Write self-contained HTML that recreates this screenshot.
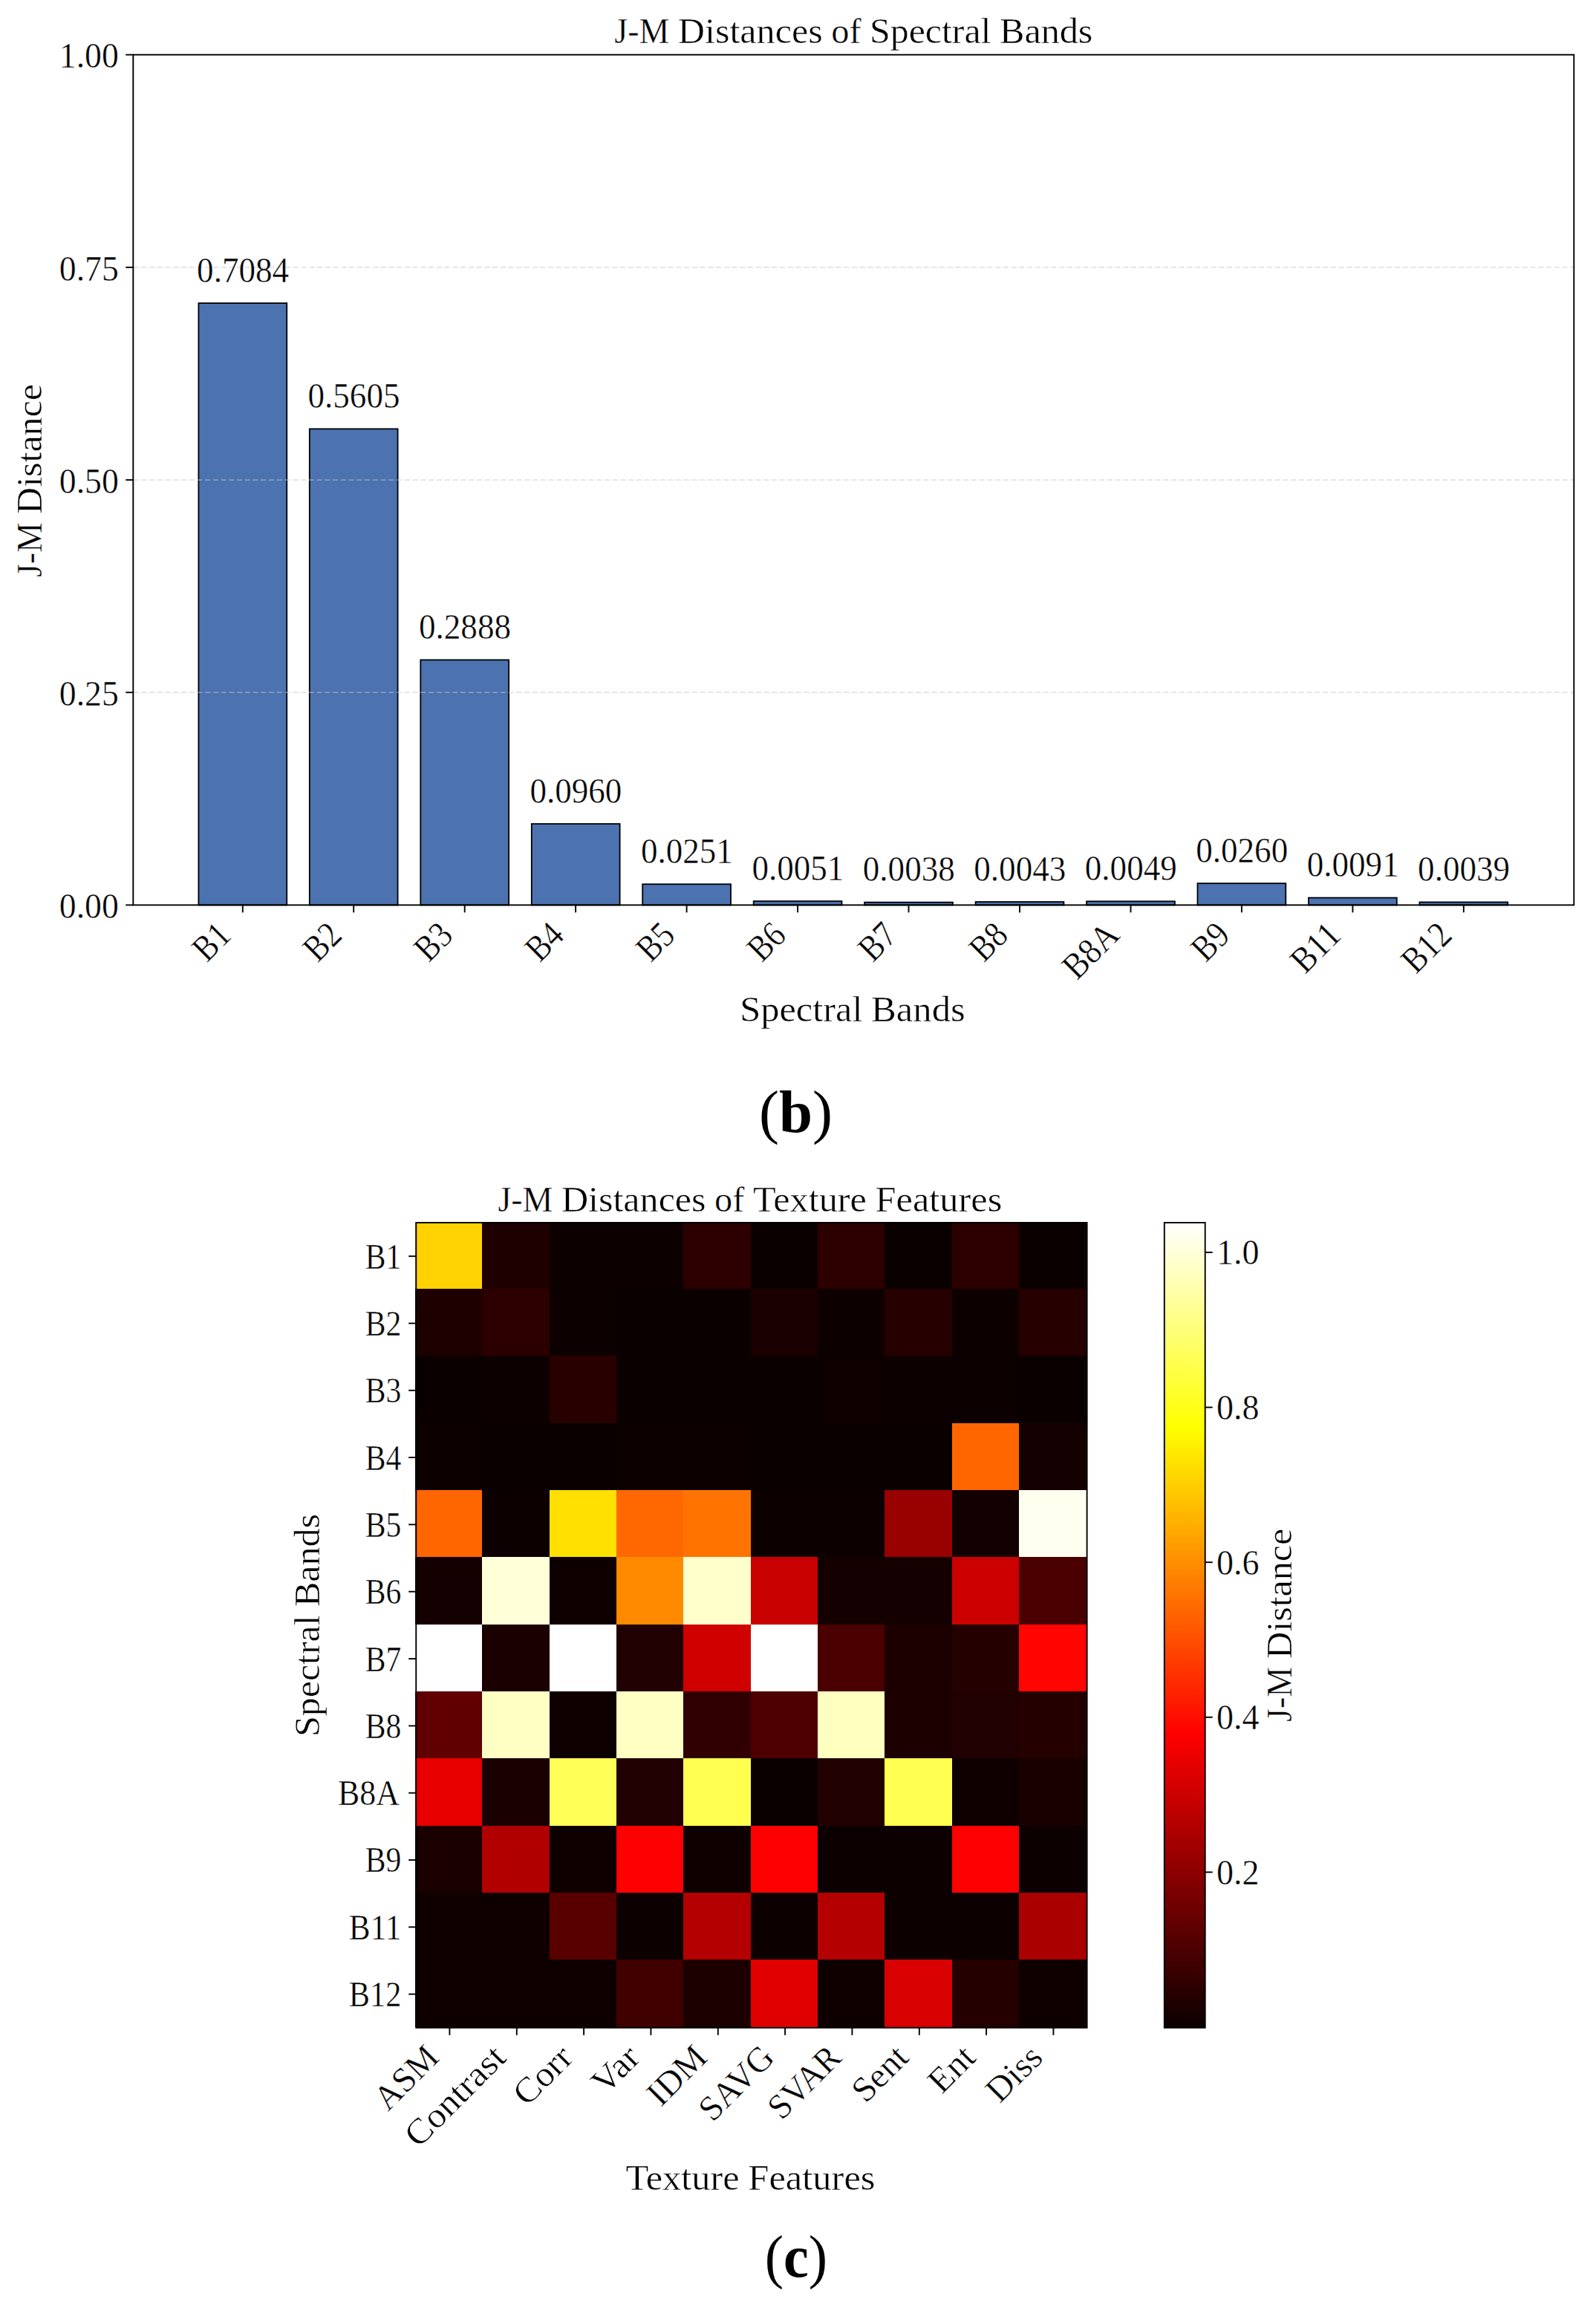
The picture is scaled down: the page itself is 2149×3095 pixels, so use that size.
<!DOCTYPE html>
<html lang="en"><head><meta charset="utf-8"><title>J-M Distances</title>
<style>
html,body{margin:0;padding:0;background:#fff}
body{width:2149px;height:3095px;overflow:hidden}
svg{display:block}
svg text{font-family:"Liberation Serif","DejaVu Serif",serif;font-size:47.5px;fill:#000;stroke:#fff;stroke-width:0.45px}
</style></head><body>
<svg width="2149" height="3095" viewBox="0 0 2149 3095">
<rect width="2149" height="3095" fill="#fff"/>
<g id="chart-b">
<g fill="#4c72b0" stroke="#000" stroke-width="1.8">
<rect x="267.4" y="408.1" width="118.8" height="810.3"/>
<rect x="416.8" y="577.4" width="118.8" height="641.0"/>
<rect x="566.3" y="888.4" width="118.8" height="330.0"/>
<rect x="715.8" y="1109.1" width="118.8" height="109.3"/>
<rect x="865.2" y="1190.3" width="118.8" height="28.1"/>
<rect x="1014.7" y="1213.2" width="118.8" height="5.2"/>
<rect x="1164.1" y="1214.7" width="118.8" height="3.7"/>
<rect x="1313.6" y="1214.1" width="118.8" height="4.3"/>
<rect x="1463.1" y="1213.4" width="118.8" height="5.0"/>
<rect x="1612.5" y="1189.2" width="118.8" height="29.2"/>
<rect x="1762.0" y="1208.6" width="118.8" height="9.8"/>
<rect x="1911.4" y="1214.5" width="118.8" height="3.9"/>
</g>
<g stroke="#c4c4c4" stroke-opacity="0.7" stroke-width="1.3" stroke-dasharray="7.15 3.6" fill="none">
<line x1="179.3" x2="2119.3" y1="932.2" y2="932.2"/>
<line x1="179.3" x2="2119.3" y1="646.1" y2="646.1"/>
<line x1="179.3" x2="2119.3" y1="359.9" y2="359.9"/>
<line x1="179.3" x2="2119.3" y1="73.7" y2="73.7"/>
</g>
<rect x="179.3" y="73.7" width="1940.0000000000002" height="1144.7" fill="none" stroke="#000" stroke-width="1.9"/>
<g stroke="#000" stroke-width="1.9">
<line x1="169.3" x2="179.3" y1="1218.4" y2="1218.4"/>
<line x1="169.3" x2="179.3" y1="932.2" y2="932.2"/>
<line x1="169.3" x2="179.3" y1="646.1" y2="646.1"/>
<line x1="169.3" x2="179.3" y1="359.9" y2="359.9"/>
<line x1="169.3" x2="179.3" y1="73.7" y2="73.7"/>
<line x1="326.8" x2="326.8" y1="1218.4" y2="1228.4"/>
<line x1="476.2" x2="476.2" y1="1218.4" y2="1228.4"/>
<line x1="625.7" x2="625.7" y1="1218.4" y2="1228.4"/>
<line x1="775.1" x2="775.1" y1="1218.4" y2="1228.4"/>
<line x1="924.6" x2="924.6" y1="1218.4" y2="1228.4"/>
<line x1="1074.1" x2="1074.1" y1="1218.4" y2="1228.4"/>
<line x1="1223.5" x2="1223.5" y1="1218.4" y2="1228.4"/>
<line x1="1373.0" x2="1373.0" y1="1218.4" y2="1228.4"/>
<line x1="1522.5" x2="1522.5" y1="1218.4" y2="1228.4"/>
<line x1="1671.9" x2="1671.9" y1="1218.4" y2="1228.4"/>
<line x1="1821.4" x2="1821.4" y1="1218.4" y2="1228.4"/>
<line x1="1970.8" x2="1970.8" y1="1218.4" y2="1228.4"/>
</g>
<text y="1236.0" style="font-size:49.5px"><tspan x="79.8" textLength="80.0" lengthAdjust="spacingAndGlyphs">0.00</tspan></text>
<text y="949.8" style="font-size:49.5px"><tspan x="79.8" textLength="80.0" lengthAdjust="spacingAndGlyphs">0.25</tspan></text>
<text y="663.7" style="font-size:49.5px"><tspan x="79.8" textLength="80.0" lengthAdjust="spacingAndGlyphs">0.50</tspan></text>
<text y="377.5" style="font-size:49.5px"><tspan x="79.8" textLength="80.0" lengthAdjust="spacingAndGlyphs">0.75</tspan></text>
<text y="91.3" style="font-size:49.5px"><tspan x="79.8" textLength="80.0" lengthAdjust="spacingAndGlyphs">1.00</tspan></text>
<text y="379.7" style="font-size:49.5px"><tspan x="265.1" textLength="124.0" lengthAdjust="spacingAndGlyphs">0.7084</tspan></text>
<text y="549.0" style="font-size:49.5px"><tspan x="414.5" textLength="124.0" lengthAdjust="spacingAndGlyphs">0.5605</tspan></text>
<text y="860.0" style="font-size:49.5px"><tspan x="564.0" textLength="124.0" lengthAdjust="spacingAndGlyphs">0.2888</tspan></text>
<text y="1080.7" style="font-size:49.5px"><tspan x="713.4" textLength="124.0" lengthAdjust="spacingAndGlyphs">0.0960</tspan></text>
<text y="1161.9" style="font-size:49.5px"><tspan x="862.9" textLength="124.0" lengthAdjust="spacingAndGlyphs">0.0251</tspan></text>
<text y="1184.8" style="font-size:49.5px"><tspan x="1012.4" textLength="124.0" lengthAdjust="spacingAndGlyphs">0.0051</tspan></text>
<text y="1186.3" style="font-size:49.5px"><tspan x="1161.8" textLength="124.0" lengthAdjust="spacingAndGlyphs">0.0038</tspan></text>
<text y="1185.7" style="font-size:49.5px"><tspan x="1311.3" textLength="124.0" lengthAdjust="spacingAndGlyphs">0.0043</tspan></text>
<text y="1185.0" style="font-size:49.5px"><tspan x="1460.8" textLength="124.0" lengthAdjust="spacingAndGlyphs">0.0049</tspan></text>
<text y="1160.8" style="font-size:49.5px"><tspan x="1610.2" textLength="124.0" lengthAdjust="spacingAndGlyphs">0.0260</tspan></text>
<text y="1180.2" style="font-size:49.5px"><tspan x="1759.7" textLength="124.0" lengthAdjust="spacingAndGlyphs">0.0091</tspan></text>
<text y="1186.1" style="font-size:49.5px"><tspan x="1909.1" textLength="124.0" lengthAdjust="spacingAndGlyphs">0.0039</tspan></text>
<text transform="translate(313.5 1261.6) rotate(-45)" style="font-size:49.5px"><tspan x="-49.6" textLength="49.6" lengthAdjust="spacingAndGlyphs">B1</tspan></text>
<text transform="translate(462.9 1261.6) rotate(-45)" style="font-size:49.5px"><tspan x="-49.6" textLength="49.6" lengthAdjust="spacingAndGlyphs">B2</tspan></text>
<text transform="translate(612.4 1261.6) rotate(-45)" style="font-size:49.5px"><tspan x="-49.6" textLength="49.6" lengthAdjust="spacingAndGlyphs">B3</tspan></text>
<text transform="translate(761.8 1261.6) rotate(-45)" style="font-size:49.5px"><tspan x="-49.6" textLength="49.6" lengthAdjust="spacingAndGlyphs">B4</tspan></text>
<text transform="translate(911.3 1261.6) rotate(-45)" style="font-size:49.5px"><tspan x="-49.6" textLength="49.6" lengthAdjust="spacingAndGlyphs">B5</tspan></text>
<text transform="translate(1060.8 1261.6) rotate(-45)" style="font-size:49.5px"><tspan x="-49.6" textLength="49.6" lengthAdjust="spacingAndGlyphs">B6</tspan></text>
<text transform="translate(1210.2 1261.6) rotate(-45)" style="font-size:49.5px"><tspan x="-49.6" textLength="49.6" lengthAdjust="spacingAndGlyphs">B7</tspan></text>
<text transform="translate(1359.7 1261.6) rotate(-45)" style="font-size:49.5px"><tspan x="-49.6" textLength="49.6" lengthAdjust="spacingAndGlyphs">B8</tspan></text>
<text transform="translate(1509.7 1261.1) rotate(-45)" style="font-size:49.5px"><tspan x="-84.4" textLength="84.4" lengthAdjust="spacingAndGlyphs">B8A</tspan></text>
<text transform="translate(1658.6 1261.6) rotate(-45)" style="font-size:49.5px"><tspan x="-49.6" textLength="49.6" lengthAdjust="spacingAndGlyphs">B9</tspan></text>
<text transform="translate(1808.1 1261.6) rotate(-45)" style="font-size:49.5px"><tspan x="-72.0" textLength="72.0" lengthAdjust="spacingAndGlyphs">B11</tspan></text>
<text transform="translate(1957.5 1261.6) rotate(-45)" style="font-size:49.5px"><tspan x="-72.0" textLength="72.0" lengthAdjust="spacingAndGlyphs">B12</tspan></text>
<text y="58.0"><tspan x="827.3" textLength="74.0" lengthAdjust="spacingAndGlyphs">J-M</tspan> <tspan x="912.8" textLength="194.9" lengthAdjust="spacingAndGlyphs">Distances</tspan> <tspan x="1119.2" textLength="40.4" lengthAdjust="spacingAndGlyphs">of</tspan> <tspan x="1171.0" textLength="163.5" lengthAdjust="spacingAndGlyphs">Spectral</tspan> <tspan x="1346.0" textLength="125.3" lengthAdjust="spacingAndGlyphs">Bands</tspan></text>
<text y="1374.6"><tspan x="996.2" textLength="165.3" lengthAdjust="spacingAndGlyphs">Spectral</tspan> <tspan x="1173.1" textLength="126.6" lengthAdjust="spacingAndGlyphs">Bands</tspan></text>
<text transform="translate(56.0 647.1) rotate(-90)"><tspan x="-130.0" textLength="73.8" lengthAdjust="spacingAndGlyphs">J-M</tspan> <tspan x="-44.8" textLength="174.8" lengthAdjust="spacingAndGlyphs">Distance</tspan></text>
</g>
<text x="1071.5" y="1524" text-anchor="middle" style="font-size:81px;stroke:none">(<tspan font-weight="bold">b</tspan>)</text>
<g id="chart-c">
<rect x="560.25" y="1646.0" width="903.3499999999999" height="1083.8000000000002" fill="#0d0000"/>
<g shape-rendering="crispEdges">
<rect x="559.00" y="1644.65" width="90.83" height="90.82" fill="#FFD200"/>
<rect x="649.34" y="1644.65" width="90.83" height="90.82" fill="#1E0000"/>
<rect x="739.67" y="1644.65" width="90.83" height="90.82" fill="#0D0000"/>
<rect x="830.00" y="1644.65" width="90.83" height="90.82" fill="#0D0000"/>
<rect x="920.34" y="1644.65" width="90.83" height="90.82" fill="#2D0000"/>
<rect x="1010.67" y="1644.65" width="90.83" height="90.82" fill="#0B0000"/>
<rect x="1101.01" y="1644.65" width="90.83" height="90.82" fill="#2D0000"/>
<rect x="1191.34" y="1644.65" width="90.83" height="90.82" fill="#0B0000"/>
<rect x="1281.68" y="1644.65" width="90.83" height="90.82" fill="#2D0000"/>
<rect x="1372.01" y="1644.65" width="90.83" height="90.82" fill="#0B0000"/>
<rect x="559.00" y="1734.97" width="90.83" height="90.82" fill="#1E0000"/>
<rect x="649.34" y="1734.97" width="90.83" height="90.82" fill="#2D0000"/>
<rect x="739.67" y="1734.97" width="90.83" height="90.82" fill="#0D0000"/>
<rect x="830.00" y="1734.97" width="90.83" height="90.82" fill="#0B0000"/>
<rect x="920.34" y="1734.97" width="90.83" height="90.82" fill="#0B0000"/>
<rect x="1010.67" y="1734.97" width="90.83" height="90.82" fill="#1A0000"/>
<rect x="1101.01" y="1734.97" width="90.83" height="90.82" fill="#0D0000"/>
<rect x="1191.34" y="1734.97" width="90.83" height="90.82" fill="#260000"/>
<rect x="1281.68" y="1734.97" width="90.83" height="90.82" fill="#0D0000"/>
<rect x="1372.01" y="1734.97" width="90.83" height="90.82" fill="#260000"/>
<rect x="559.00" y="1825.28" width="90.83" height="90.82" fill="#0B0000"/>
<rect x="649.34" y="1825.28" width="90.83" height="90.82" fill="#0D0000"/>
<rect x="739.67" y="1825.28" width="90.83" height="90.82" fill="#280000"/>
<rect x="830.00" y="1825.28" width="90.83" height="90.82" fill="#0B0000"/>
<rect x="920.34" y="1825.28" width="90.83" height="90.82" fill="#0B0000"/>
<rect x="1010.67" y="1825.28" width="90.83" height="90.82" fill="#0B0000"/>
<rect x="1101.01" y="1825.28" width="90.83" height="90.82" fill="#0F0000"/>
<rect x="1191.34" y="1825.28" width="90.83" height="90.82" fill="#0D0000"/>
<rect x="1281.68" y="1825.28" width="90.83" height="90.82" fill="#0D0000"/>
<rect x="1372.01" y="1825.28" width="90.83" height="90.82" fill="#0B0000"/>
<rect x="559.00" y="1915.60" width="90.83" height="90.82" fill="#0D0000"/>
<rect x="649.34" y="1915.60" width="90.83" height="90.82" fill="#0B0000"/>
<rect x="739.67" y="1915.60" width="90.83" height="90.82" fill="#0B0000"/>
<rect x="830.00" y="1915.60" width="90.83" height="90.82" fill="#0D0000"/>
<rect x="920.34" y="1915.60" width="90.83" height="90.82" fill="#0D0000"/>
<rect x="1010.67" y="1915.60" width="90.83" height="90.82" fill="#0B0000"/>
<rect x="1101.01" y="1915.60" width="90.83" height="90.82" fill="#0B0000"/>
<rect x="1191.34" y="1915.60" width="90.83" height="90.82" fill="#0B0000"/>
<rect x="1281.68" y="1915.60" width="90.83" height="90.82" fill="#FF6600"/>
<rect x="1372.01" y="1915.60" width="90.83" height="90.82" fill="#150000"/>
<rect x="559.00" y="2005.92" width="90.83" height="90.82" fill="#FF6600"/>
<rect x="649.34" y="2005.92" width="90.83" height="90.82" fill="#0D0000"/>
<rect x="739.67" y="2005.92" width="90.83" height="90.82" fill="#FFE000"/>
<rect x="830.00" y="2005.92" width="90.83" height="90.82" fill="#FF6800"/>
<rect x="920.34" y="2005.92" width="90.83" height="90.82" fill="#FF7400"/>
<rect x="1010.67" y="2005.92" width="90.83" height="90.82" fill="#0D0000"/>
<rect x="1101.01" y="2005.92" width="90.83" height="90.82" fill="#0D0000"/>
<rect x="1191.34" y="2005.92" width="90.83" height="90.82" fill="#990000"/>
<rect x="1281.68" y="2005.92" width="90.83" height="90.82" fill="#120000"/>
<rect x="1372.01" y="2005.92" width="90.83" height="90.82" fill="#FFFFF0"/>
<rect x="559.00" y="2096.23" width="90.83" height="90.82" fill="#150000"/>
<rect x="649.34" y="2096.23" width="90.83" height="90.82" fill="#FFFFD8"/>
<rect x="739.67" y="2096.23" width="90.83" height="90.82" fill="#0F0000"/>
<rect x="830.00" y="2096.23" width="90.83" height="90.82" fill="#FF8A00"/>
<rect x="920.34" y="2096.23" width="90.83" height="90.82" fill="#FFFFCC"/>
<rect x="1010.67" y="2096.23" width="90.83" height="90.82" fill="#C80000"/>
<rect x="1101.01" y="2096.23" width="90.83" height="90.82" fill="#150000"/>
<rect x="1191.34" y="2096.23" width="90.83" height="90.82" fill="#150000"/>
<rect x="1281.68" y="2096.23" width="90.83" height="90.82" fill="#CC0000"/>
<rect x="1372.01" y="2096.23" width="90.83" height="90.82" fill="#4A0000"/>
<rect x="559.00" y="2186.55" width="90.83" height="90.82" fill="#FFFFFF"/>
<rect x="649.34" y="2186.55" width="90.83" height="90.82" fill="#1A0000"/>
<rect x="739.67" y="2186.55" width="90.83" height="90.82" fill="#FFFFFF"/>
<rect x="830.00" y="2186.55" width="90.83" height="90.82" fill="#200000"/>
<rect x="920.34" y="2186.55" width="90.83" height="90.82" fill="#D00000"/>
<rect x="1010.67" y="2186.55" width="90.83" height="90.82" fill="#FFFFFF"/>
<rect x="1101.01" y="2186.55" width="90.83" height="90.82" fill="#4A0000"/>
<rect x="1191.34" y="2186.55" width="90.83" height="90.82" fill="#1C0000"/>
<rect x="1281.68" y="2186.55" width="90.83" height="90.82" fill="#240000"/>
<rect x="1372.01" y="2186.55" width="90.83" height="90.82" fill="#FF0400"/>
<rect x="559.00" y="2276.87" width="90.83" height="90.82" fill="#600000"/>
<rect x="649.34" y="2276.87" width="90.83" height="90.82" fill="#FFFFC4"/>
<rect x="739.67" y="2276.87" width="90.83" height="90.82" fill="#0F0000"/>
<rect x="830.00" y="2276.87" width="90.83" height="90.82" fill="#FFFFC4"/>
<rect x="920.34" y="2276.87" width="90.83" height="90.82" fill="#300000"/>
<rect x="1010.67" y="2276.87" width="90.83" height="90.82" fill="#4E0000"/>
<rect x="1101.01" y="2276.87" width="90.83" height="90.82" fill="#FFFFC0"/>
<rect x="1191.34" y="2276.87" width="90.83" height="90.82" fill="#1C0000"/>
<rect x="1281.68" y="2276.87" width="90.83" height="90.82" fill="#200000"/>
<rect x="1372.01" y="2276.87" width="90.83" height="90.82" fill="#240000"/>
<rect x="559.00" y="2367.18" width="90.83" height="90.82" fill="#E80000"/>
<rect x="649.34" y="2367.18" width="90.83" height="90.82" fill="#1A0000"/>
<rect x="739.67" y="2367.18" width="90.83" height="90.82" fill="#FFFF58"/>
<rect x="830.00" y="2367.18" width="90.83" height="90.82" fill="#200000"/>
<rect x="920.34" y="2367.18" width="90.83" height="90.82" fill="#FFFF50"/>
<rect x="1010.67" y="2367.18" width="90.83" height="90.82" fill="#0B0000"/>
<rect x="1101.01" y="2367.18" width="90.83" height="90.82" fill="#200000"/>
<rect x="1191.34" y="2367.18" width="90.83" height="90.82" fill="#FFFF50"/>
<rect x="1281.68" y="2367.18" width="90.83" height="90.82" fill="#0F0000"/>
<rect x="1372.01" y="2367.18" width="90.83" height="90.82" fill="#180000"/>
<rect x="559.00" y="2457.50" width="90.83" height="90.82" fill="#1A0000"/>
<rect x="649.34" y="2457.50" width="90.83" height="90.82" fill="#B00000"/>
<rect x="739.67" y="2457.50" width="90.83" height="90.82" fill="#0F0000"/>
<rect x="830.00" y="2457.50" width="90.83" height="90.82" fill="#FF0000"/>
<rect x="920.34" y="2457.50" width="90.83" height="90.82" fill="#0F0000"/>
<rect x="1010.67" y="2457.50" width="90.83" height="90.82" fill="#FF0000"/>
<rect x="1101.01" y="2457.50" width="90.83" height="90.82" fill="#0D0000"/>
<rect x="1191.34" y="2457.50" width="90.83" height="90.82" fill="#0D0000"/>
<rect x="1281.68" y="2457.50" width="90.83" height="90.82" fill="#FF0000"/>
<rect x="1372.01" y="2457.50" width="90.83" height="90.82" fill="#0D0000"/>
<rect x="559.00" y="2547.82" width="90.83" height="90.82" fill="#0F0000"/>
<rect x="649.34" y="2547.82" width="90.83" height="90.82" fill="#0F0000"/>
<rect x="739.67" y="2547.82" width="90.83" height="90.82" fill="#580000"/>
<rect x="830.00" y="2547.82" width="90.83" height="90.82" fill="#0D0000"/>
<rect x="920.34" y="2547.82" width="90.83" height="90.82" fill="#B40000"/>
<rect x="1010.67" y="2547.82" width="90.83" height="90.82" fill="#0D0000"/>
<rect x="1101.01" y="2547.82" width="90.83" height="90.82" fill="#B40000"/>
<rect x="1191.34" y="2547.82" width="90.83" height="90.82" fill="#0D0000"/>
<rect x="1281.68" y="2547.82" width="90.83" height="90.82" fill="#0D0000"/>
<rect x="1372.01" y="2547.82" width="90.83" height="90.82" fill="#AA0000"/>
<rect x="559.00" y="2638.13" width="90.83" height="90.82" fill="#0F0000"/>
<rect x="649.34" y="2638.13" width="90.83" height="90.82" fill="#0F0000"/>
<rect x="739.67" y="2638.13" width="90.83" height="90.82" fill="#0F0000"/>
<rect x="830.00" y="2638.13" width="90.83" height="90.82" fill="#400000"/>
<rect x="920.34" y="2638.13" width="90.83" height="90.82" fill="#1C0000"/>
<rect x="1010.67" y="2638.13" width="90.83" height="90.82" fill="#E00000"/>
<rect x="1101.01" y="2638.13" width="90.83" height="90.82" fill="#0F0000"/>
<rect x="1191.34" y="2638.13" width="90.83" height="90.82" fill="#D80000"/>
<rect x="1281.68" y="2638.13" width="90.83" height="90.82" fill="#240000"/>
<rect x="1372.01" y="2638.13" width="90.83" height="90.82" fill="#0F0000"/>
</g>
<rect x="560.25" y="1646.0" width="903.3499999999999" height="1083.8000000000002" fill="none" stroke="#000" stroke-width="1.9"/>
<g stroke="#000" stroke-width="1.9">
<line x1="550.2" x2="560.25" y1="1691.2" y2="1691.2"/>
<line x1="550.2" x2="560.25" y1="1781.5" y2="1781.5"/>
<line x1="550.2" x2="560.25" y1="1871.8" y2="1871.8"/>
<line x1="550.2" x2="560.25" y1="1962.1" y2="1962.1"/>
<line x1="550.2" x2="560.25" y1="2052.4" y2="2052.4"/>
<line x1="550.2" x2="560.25" y1="2142.7" y2="2142.7"/>
<line x1="550.2" x2="560.25" y1="2233.1" y2="2233.1"/>
<line x1="550.2" x2="560.25" y1="2323.4" y2="2323.4"/>
<line x1="550.2" x2="560.25" y1="2413.7" y2="2413.7"/>
<line x1="550.2" x2="560.25" y1="2504.0" y2="2504.0"/>
<line x1="550.2" x2="560.25" y1="2594.3" y2="2594.3"/>
<line x1="550.2" x2="560.25" y1="2684.6" y2="2684.6"/>
<line x1="605.4" x2="605.4" y1="2729.8" y2="2739.8"/>
<line x1="695.8" x2="695.8" y1="2729.8" y2="2739.8"/>
<line x1="786.1" x2="786.1" y1="2729.8" y2="2739.8"/>
<line x1="876.4" x2="876.4" y1="2729.8" y2="2739.8"/>
<line x1="966.8" x2="966.8" y1="2729.8" y2="2739.8"/>
<line x1="1057.1" x2="1057.1" y1="2729.8" y2="2739.8"/>
<line x1="1147.4" x2="1147.4" y1="2729.8" y2="2739.8"/>
<line x1="1237.8" x2="1237.8" y1="2729.8" y2="2739.8"/>
<line x1="1328.1" x2="1328.1" y1="2729.8" y2="2739.8"/>
<line x1="1418.4" x2="1418.4" y1="2729.8" y2="2739.8"/>
</g>
<text y="1707.6" style="font-size:49.5px"><tspan x="491.7" textLength="48.6" lengthAdjust="spacingAndGlyphs">B1</tspan></text>
<text y="1797.9" style="font-size:49.5px"><tspan x="491.7" textLength="48.6" lengthAdjust="spacingAndGlyphs">B2</tspan></text>
<text y="1888.2" style="font-size:49.5px"><tspan x="491.7" textLength="48.6" lengthAdjust="spacingAndGlyphs">B3</tspan></text>
<text y="1978.5" style="font-size:49.5px"><tspan x="491.7" textLength="48.6" lengthAdjust="spacingAndGlyphs">B4</tspan></text>
<text y="2068.8" style="font-size:49.5px"><tspan x="491.7" textLength="48.6" lengthAdjust="spacingAndGlyphs">B5</tspan></text>
<text y="2159.1" style="font-size:49.5px"><tspan x="491.7" textLength="48.6" lengthAdjust="spacingAndGlyphs">B6</tspan></text>
<text y="2249.5" style="font-size:49.5px"><tspan x="491.7" textLength="48.6" lengthAdjust="spacingAndGlyphs">B7</tspan></text>
<text y="2339.8" style="font-size:49.5px"><tspan x="491.7" textLength="48.6" lengthAdjust="spacingAndGlyphs">B8</tspan></text>
<text y="2430.1" style="font-size:49.5px"><tspan x="455.1" textLength="82.7" lengthAdjust="spacingAndGlyphs">B8A</tspan></text>
<text y="2520.4" style="font-size:49.5px"><tspan x="491.7" textLength="48.6" lengthAdjust="spacingAndGlyphs">B9</tspan></text>
<text y="2610.7" style="font-size:49.5px"><tspan x="469.8" textLength="70.5" lengthAdjust="spacingAndGlyphs">B11</tspan></text>
<text y="2701.0" style="font-size:49.5px"><tspan x="469.8" textLength="70.5" lengthAdjust="spacingAndGlyphs">B12</tspan></text>
<text transform="translate(593.4 2772.4) rotate(-45)"><tspan x="-100.5" textLength="100.5" lengthAdjust="spacingAndGlyphs">ASM</tspan></text>
<text transform="translate(683.8 2772.4) rotate(-45)"><tspan x="-170.2" textLength="170.2" lengthAdjust="spacingAndGlyphs">Contrast</tspan></text>
<text transform="translate(774.1 2772.4) rotate(-45)"><tspan x="-91.4" textLength="91.4" lengthAdjust="spacingAndGlyphs">Corr</tspan></text>
<text transform="translate(864.4 2772.4) rotate(-45)"><tspan x="-69.8" textLength="69.8" lengthAdjust="spacingAndGlyphs">Var</tspan></text>
<text transform="translate(954.8 2772.4) rotate(-45)"><tspan x="-91.9" textLength="91.9" lengthAdjust="spacingAndGlyphs">IDM</tspan></text>
<text transform="translate(1045.1 2772.4) rotate(-45)"><tspan x="-121.2" textLength="121.2" lengthAdjust="spacingAndGlyphs">SAVG</tspan></text>
<text transform="translate(1135.4 2772.4) rotate(-45)"><tspan x="-117.4" textLength="117.4" lengthAdjust="spacingAndGlyphs">SVAR</tspan></text>
<text transform="translate(1225.8 2772.4) rotate(-45)"><tspan x="-85.4" textLength="85.4" lengthAdjust="spacingAndGlyphs">Sent</tspan></text>
<text transform="translate(1316.1 2772.4) rotate(-45)"><tspan x="-67.9" textLength="67.9" lengthAdjust="spacingAndGlyphs">Ent</tspan></text>
<text transform="translate(1406.4 2772.4) rotate(-45)"><tspan x="-85.5" textLength="85.5" lengthAdjust="spacingAndGlyphs">Diss</tspan></text>
<text y="1630.5"><tspan x="670.4" textLength="74.0" lengthAdjust="spacingAndGlyphs">J-M</tspan> <tspan x="755.9" textLength="194.7" lengthAdjust="spacingAndGlyphs">Distances</tspan> <tspan x="962.1" textLength="40.3" lengthAdjust="spacingAndGlyphs">of</tspan> <tspan x="1013.9" textLength="153.1" lengthAdjust="spacingAndGlyphs">Texture</tspan> <tspan x="1178.5" textLength="170.9" lengthAdjust="spacingAndGlyphs">Features</tspan></text>
<text y="2948.0"><tspan x="842.4" textLength="153.3" lengthAdjust="spacingAndGlyphs">Texture</tspan> <tspan x="1007.3" textLength="171.2" lengthAdjust="spacingAndGlyphs">Features</tspan></text>
<text transform="translate(429.8 2187.9) rotate(-90)"><tspan x="-150.0" textLength="163.4" lengthAdjust="spacingAndGlyphs">Spectral</tspan> <tspan x="24.8" textLength="125.2" lengthAdjust="spacingAndGlyphs">Bands</tspan></text>
<defs><linearGradient id="hot" x1="0" y1="1" x2="0" y2="0"><stop offset="0" stop-color="#0b0000"/><stop offset="0.365079" stop-color="#ff0000"/><stop offset="0.746032" stop-color="#ffff00"/><stop offset="1" stop-color="#ffffff"/></linearGradient></defs>
<rect x="1567.8" y="1646.0" width="54.9" height="1083.8000000000002" fill="url(#hot)" stroke="#000" stroke-width="1.9"/>
<g stroke="#000" stroke-width="1.9">
<line x1="1622.7" x2="1632.7" y1="1686.0" y2="1686.0"/>
<line x1="1622.7" x2="1632.7" y1="1894.6" y2="1894.6"/>
<line x1="1622.7" x2="1632.7" y1="2103.2" y2="2103.2"/>
<line x1="1622.7" x2="1632.7" y1="2311.8" y2="2311.8"/>
<line x1="1622.7" x2="1632.7" y1="2520.4" y2="2520.4"/>
</g>
<text y="1702.4" style="font-size:49.5px"><tspan x="1638.0" textLength="57.5" lengthAdjust="spacingAndGlyphs">1.0</tspan></text>
<text y="1911.0" style="font-size:49.5px"><tspan x="1638.0" textLength="57.5" lengthAdjust="spacingAndGlyphs">0.8</tspan></text>
<text y="2119.6" style="font-size:49.5px"><tspan x="1638.0" textLength="57.5" lengthAdjust="spacingAndGlyphs">0.6</tspan></text>
<text y="2328.2" style="font-size:49.5px"><tspan x="1638.0" textLength="57.5" lengthAdjust="spacingAndGlyphs">0.4</tspan></text>
<text y="2536.8" style="font-size:49.5px"><tspan x="1638.0" textLength="57.5" lengthAdjust="spacingAndGlyphs">0.2</tspan></text>
<text transform="translate(1739.4 2187.9) rotate(-90)"><tspan x="-130.0" textLength="73.8" lengthAdjust="spacingAndGlyphs">J-M</tspan> <tspan x="-44.8" textLength="174.8" lengthAdjust="spacingAndGlyphs">Distance</tspan></text>
</g>
<text x="1071.9" y="3064.8" text-anchor="middle" style="font-size:81px;stroke:none" textLength="84.4" lengthAdjust="spacingAndGlyphs">(<tspan font-weight="bold">c</tspan>)</text>
</svg>
</body></html>
